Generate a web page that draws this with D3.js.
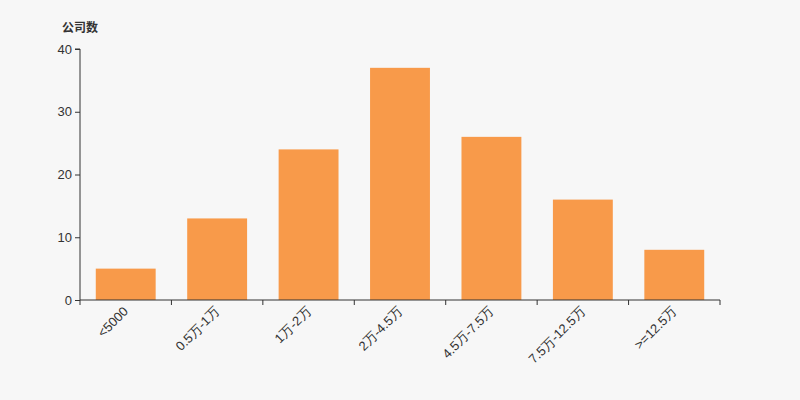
<!DOCTYPE html>
<html><head><meta charset="utf-8">
<script src="https://cdn.jsdelivr.net/npm/d3@7"></script>
<style>body{margin:0;background:#f7f7f7;}svg{display:block;font-family:"Liberation Sans","Noto Sans CJK SC",sans-serif;}</style>
</head><body><svg id="c" width="800" height="400"></svg>
<script>
const categories = ["<5000","0.5万-1万","1万-2万","2万-4.5万","4.5万-7.5万","7.5万-12.5万",">=12.5万"];
const values = [5,13,24,37,26,16,8];
const yTicks = [0,10,20,30,40];
const yTitle = "公司数";

const svg = d3.select("#c");
svg.append("rect").attr("width",800).attr("height",400).attr("fill","#f7f7f7");
const m = {l:80, r:80, t:49, b:100};
const x = d3.scaleBand().domain(categories).range([m.l, 800-m.r]).paddingInner(0).paddingOuter(0);
const y = d3.scaleLinear().domain([0,40]).range([400-m.b, m.t]);
const bw = x.bandwidth()*0.655;

svg.append("g").selectAll("rect").data(values).join("rect")
  .attr("x",(d,i)=>x(categories[i])+(x.bandwidth()-bw)/2)
  .attr("width",bw)
  .attr("y",d=>y(d))
  .attr("height",d=>y(0)-y(d))
  .attr("fill","#f89a4a");

// y axis
const ya = svg.append("g").attr("transform",`translate(${m.l},0)`)
  .call(d3.axisLeft(y).tickValues(yTicks).tickSize(5).tickPadding(3));
ya.select(".domain").attr("stroke","#333").attr("d",`M-5,${y(40)}H0V${y(0)}`);
ya.selectAll(".tick line").attr("stroke","#333");
ya.selectAll(".tick text").attr("fill","#333").style("font-size","13px").style("font-family","Liberation Sans, sans-serif");

// x axis
const xa = svg.append("g").attr("transform",`translate(0,${y(0)})`)
  .call(d3.axisBottom(x).tickSize(0).tickFormat(""));
xa.select(".domain").attr("stroke","#333").attr("d",`M${m.l},0H${800-m.r}`);
const bounds = categories.map(c=>x(c)).concat([800-m.r]);
xa.selectAll(".bt").data(bounds).join("line").attr("class","bt")
  .attr("x1",d=>d).attr("x2",d=>d).attr("y1",0).attr("y2",5).attr("stroke","#333");
xa.selectAll(".lbl").data(categories).join("text").attr("class","lbl")
  .attr("transform",d=>`translate(${x(d)+x.bandwidth()/2},${9}) rotate(-45)`)
  .attr("text-anchor","end").attr("dy","0.35em")
  .attr("fill","#333").style("font-size","13px")
  .text(d=>d);

svg.append("text").attr("x",62).attr("y",32).attr("fill","#333")
  .style("font-size","12px").style("font-weight","bold").text(yTitle);
</script></body></html>
